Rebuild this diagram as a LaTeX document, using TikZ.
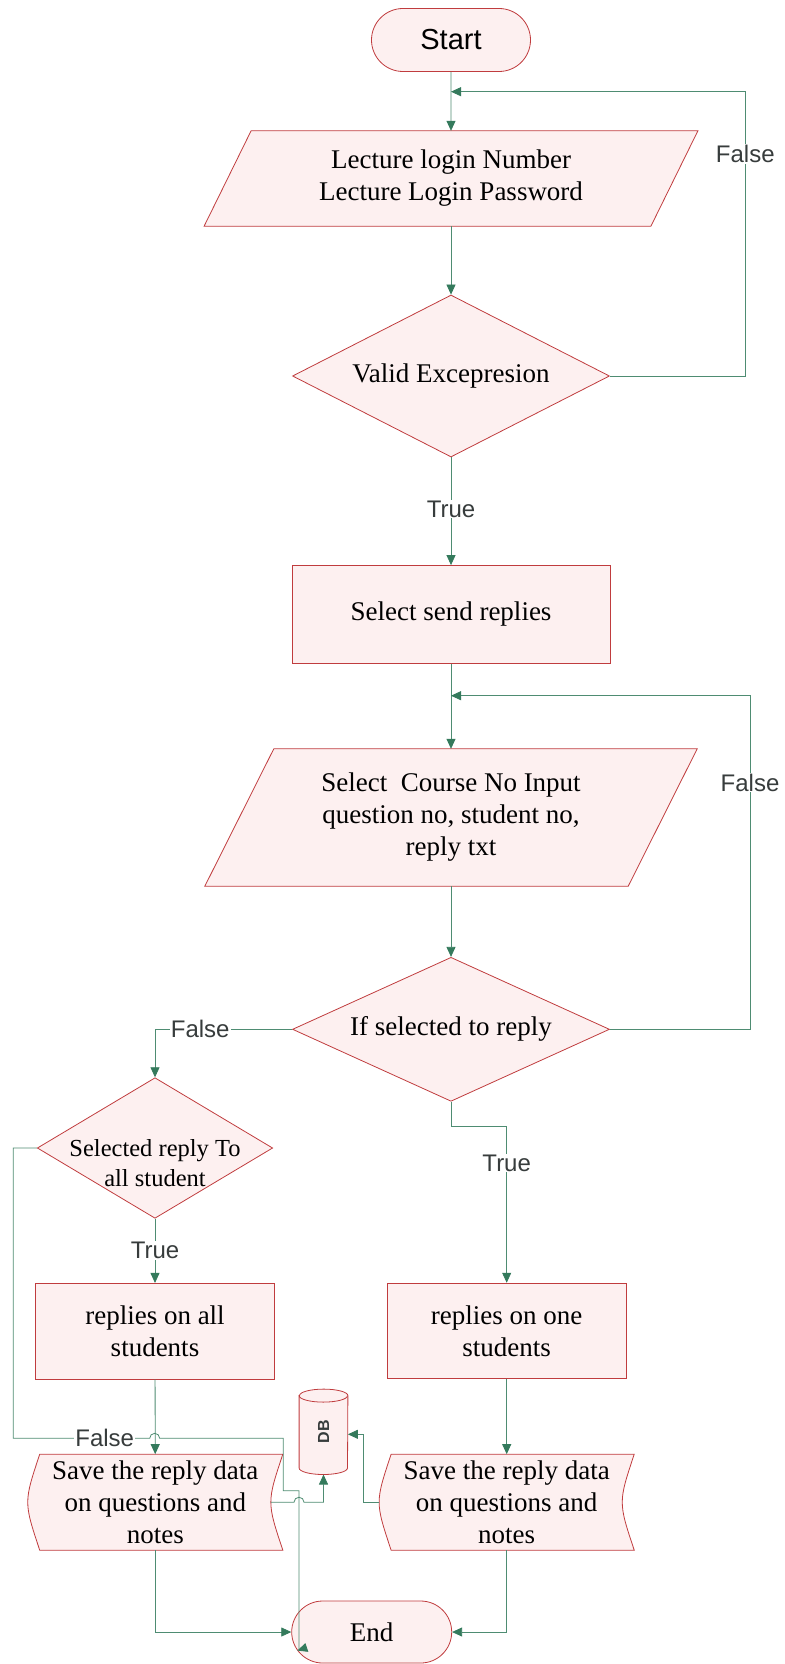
\documentclass[tikz,border=0pt]{standalone}
\usepackage{fontspec}
\setmainfont{Liberation Serif}
\setsansfont{Liberation Sans}
\usetikzlibrary{shapes.geometric,shapes.misc,arrows.meta,backgrounds}

\definecolor{boxred}{RGB}{192,60,62}
\definecolor{boxfill}{RGB}{253,240,240}
\definecolor{flowgreen}{RGB}{78,140,114}
\definecolor{tipgreen}{RGB}{52,122,92}
\definecolor{lblgray}{RGB}{55,60,60}

\newcommand{\bigtxt}{\fontsize{27}{32}\selectfont}
\newcommand{\midtxt}{\fontsize{24.5}{30}\selectfont}
% input box: slanted outline round a plain node
\newcommand{\slantbox}[2]{\draw[boxline] ([xshift=#2]#1.north west) -- ([xshift=#2]#1.north east)
  -- ([xshift=-#2]#1.south east) -- ([xshift=-#2]#1.south west) -- cycle;}
% stored data outline
\newcommand{\storebox}[1]{\draw[boxline] ([xshift=12pt]#1.north west) -- (#1.north east)
  .. controls ([xshift=-16pt]#1.east) .. (#1.south east) -- ([xshift=12pt]#1.south west)
  .. controls ([xshift=-4pt]#1.west) .. ([xshift=12pt]#1.north west) -- cycle;}

\begin{document}
\begin{tikzpicture}[x=1pt,y=1pt,
    boxline/.style={draw=boxred,fill=boxfill,line width=0.8pt},
    term/.style={rounded rectangle,boxline,inner sep=0pt},
    process/.style={rectangle,boxline,inner sep=0pt,minimum width=238.6pt,minimum height=95.7pt,align=center,font=\bigtxt},
    io/.style={rectangle,inner sep=0pt,align=center,font=\bigtxt},
    store/.style={rectangle,inner sep=0pt,minimum width=254.7pt,minimum height=95.7pt,align=center,font=\bigtxt},
    decision/.style={diamond,boxline,inner sep=0pt,aspect=2,align=center,font=\bigtxt},
    flow/.style={draw=flowgreen,line width=0.8pt,-{Triangle[length=10pt,width=9pt,color=tipgreen]}},
    lbl/.style={fill=white,inner sep=1pt,text=lblgray,font=\sffamily\fontsize{24}{24}\selectfont}]

\useasboundingbox (0,0) rectangle (784,-1664);

\node[term,minimum width=159pt,minimum height=63pt,font=\sffamily\fontsize{29}{29}\selectfont] (start) at (451,-40) {Start};
\node[io,minimum width=446.4pt,minimum height=95pt] (login) at (451,-178.5) {Lecture login Number\\Lecture Login Password};
\node[decision,minimum width=317pt,minimum height=162pt,aspect=1.96] (valid) at (451,-376) {Valid Excepresion};
\node[process,minimum width=318pt,minimum height=97.8pt] (sendrep) at (451,-614.4) {Select send replies};
\node[io,minimum width=423pt,minimum height=137pt] (course) at (451,-817.5) {Select\ \ Course No Input\\question no, student no,\\reply txt};
\node[decision,minimum width=317pt,minimum height=144pt,aspect=2.2] (choose) at (451,-1029.3) {If selected to reply};
\node[decision,minimum width=235.4pt,minimum height=140.6pt,
  label={[name=selalltxt,align=center,font=\midtxt,yshift=-15pt]center:Selected reply To\\all student}] (selall) at (155,-1148) {};
\node[process] (allrep) at (155,-1331.2) {replies on all\\students};
\node[process] (onerep) at (506.7,-1331) {replies on one\\students};
\node[store] (save1) at (155.3,-1502.2) {Save the reply data\\on questions and\\notes};
\node[store] (save2) at (506.7,-1502.2) {Save the reply data\\on questions and\\notes};
\node[rectangle,inner sep=0pt,minimum width=48.4pt,minimum height=85pt] (db) at (323.5,-1431.8) {};
\node[term,minimum width=160pt,minimum height=62pt,font=\bigtxt] (end) at (371.7,-1632) {End};

\coordinate (loop1) at (451,-91.7);
\coordinate (loop2) at (451,-695.7);

\begin{pgfonlayer}{background}
\slantbox{login}{23.5pt}
\slantbox{course}{34.5pt}
\storebox{save1}
\storebox{save2}
\draw[boxline] ([yshift=-6.5pt]db.north west) -- ([yshift=6.5pt]db.south west)
  arc[start angle=180,end angle=360,x radius=24.2,y radius=6.5] -- ([yshift=-6.5pt]db.north east)
  arc[start angle=0,end angle=180,x radius=24.2,y radius=6.5] -- cycle;
\draw[boxline,fill=none] ([yshift=-6.5pt]db.north west) arc[start angle=180,end angle=360,x radius=24.2,y radius=6.5];
\end{pgfonlayer}
\node[rotate=90,font=\sffamily\bfseries\fontsize{16}{16}\selectfont,text=lblgray] (dbtxt) at (db) {DB};

\draw[flow] (start) -- (login);
\draw[flow] (login) -- (valid);
\draw[flow] (valid) -- node[lbl,pos=0.48]{True} (sendrep);
\draw[flow] (valid.east) -| node[lbl,pos=0.89]{False} (745.3,-91.7) -- (loop1);
\draw[flow] (sendrep) -- (course);
\draw[flow] (course) -- (choose);
\draw[flow] (choose.east) -| node[lbl,pos=0.87]{False} (750,-695.7) -- (loop2);
\draw[flow] (choose.west) -| node[lbl,pos=0.335]{False} (selall.north);
\draw[flow] (choose.south) -- ++(0,-24.4) -| node[lbl,pos=0.618]{True} (onerep.north);
\draw[flow] (selall) -- node[lbl,pos=0.49]{True} (allrep);
\draw[flow] (allrep) -- (save1);
\draw[flow] (onerep) -- (save2);
\draw[flow] (selall.west) -| (13.3,-1438.3) -- node[lbl,pos=0.67]{False} (149.7,-1438.3)
  arc[start angle=180,end angle=0,radius=5] -- (283.3,-1438.3) -- (283.3,-1490.7)
  -- (299,-1490.7) -- (299,-1650) -- (end.194);
\draw[flow] ([xshift=-12pt]save1.east) -- (294,-1502.2) arc[start angle=180,end angle=0,radius=5] -| (db.south);
\draw[flow] (save2.west) -- ++(-15.3,0) |- ([yshift=-2.5pt]db.east);
\draw[flow] (save1.south) |- (end.west);
\draw[flow] (save2.south) |- (end.east);
\end{tikzpicture}
\end{document}
